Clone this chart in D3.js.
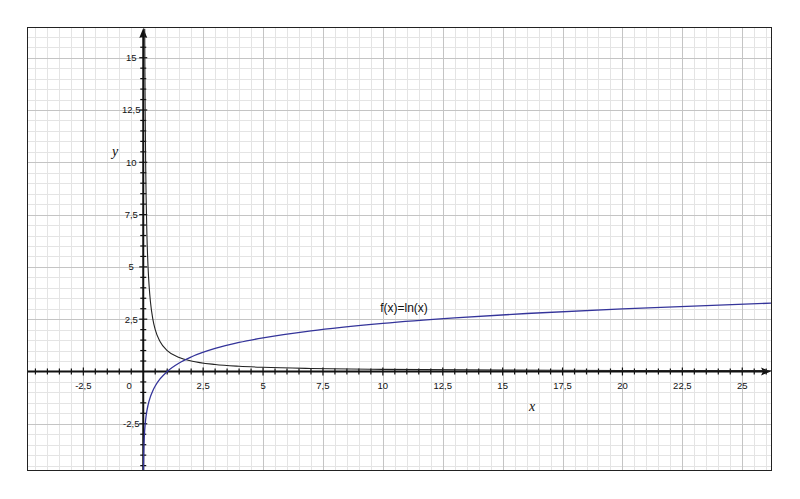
<!DOCTYPE html>
<html><head><meta charset="utf-8">
<script src="https://cdn.jsdelivr.net/npm/d3@7"></script>
<style>html,body{margin:0;padding:0;background:#fff;}svg{display:block;}</style>
</head><body>
<svg id="chart" width="800" height="499"></svg>
<script>
// Domain
const xDomain = [-4.81, 26.2];
const yDomain = [-4.71, 16.42];
const xTickValues = [-2.5, 0, 2.5, 5, 7.5, 10, 12.5, 15, 17.5, 20, 22.5, 25];
const xTickLabels = ["-2,5", "0", "2,5", "5", "7,5", "10", "12,5", "15", "17,5", "20", "22,5", "25"];
const yTickValues = [-2.5, 2.5, 5, 7.5, 10, 12.5, 15];
const yTickLabels = ["-2,5", "2,5", "5", "7,5", "10", "12,5", "15"];

// f(x)=ln(x) sampled values
const lnX = [0.009, 0.012, 0.015, 0.02, 0.03, 0.04, 0.05, 0.075, 0.1, 0.15, 0.2, 0.3, 0.4, 0.5, 0.7, 1, 1.5, 2, 3, 4, 5, 7, 10, 13, 16, 20, 26.2];
const lnY = [-4.7105, -4.4228, -4.1997, -3.912, -3.5066, -3.2189, -2.9957, -2.5903, -2.3026, -1.8971, -1.6094, -1.2040, -0.9163, -0.6931, -0.3567, 0, 0.4055, 0.6931, 1.0986, 1.3863, 1.6094, 1.9459, 2.3026, 2.5649, 2.7726, 2.9957, 3.2658];

// second (black) curve sampled values
const invX = [0.061, 0.07, 0.08, 0.1, 0.12, 0.15, 0.2, 0.25, 0.3, 0.4, 0.5, 0.7, 1, 1.5, 2, 3, 4, 5, 7, 10, 15, 20, 26.2];
const invY = [16.39, 14.286, 12.5, 10, 8.333, 6.667, 5, 4, 3.333, 2.5, 2, 1.4286, 1, 0.6667, 0.5, 0.3333, 0.25, 0.2, 0.1429, 0.1, 0.0667, 0.05, 0.0382];

const curveLabel = "f(x)=ln(x)";

const L = 28, R = 771, T = 28, B = 470;
const svg = d3.select("#chart");
const x = d3.scaleLinear().domain(xDomain).range([L, R]);
const y = d3.scaleLinear().domain(yDomain).range([B, T]);

svg.append("defs").append("clipPath").attr("id", "clip")
  .append("rect").attr("x", L).attr("y", T).attr("width", R - L).attr("height", B - T);

// grid
const minorX = d3.range(-4.5, 26.21, 0.5).filter(v => Math.abs(v / 2.5 - Math.round(v / 2.5)) > 1e-6);
const minorY = d3.range(-4.5, 16.41, 0.5).filter(v => Math.abs(v / 2.5 - Math.round(v / 2.5)) > 1e-6);
const majorX = d3.range(-2.5, 26.21, 2.5);
const majorY = d3.range(-2.5, 16.41, 2.5);
const g = svg.append("g");
g.selectAll(".mx").data(minorX).join("line")
  .attr("x1", d => Math.round(x(d)) + 0.5).attr("x2", d => Math.round(x(d)) + 0.5)
  .attr("y1", T).attr("y2", B).attr("stroke", "#e4e4e4").attr("stroke-width", 1);
g.selectAll(".my").data(minorY).join("line")
  .attr("y1", d => Math.round(y(d)) + 0.5).attr("y2", d => Math.round(y(d)) + 0.5)
  .attr("x1", L).attr("x2", R).attr("stroke", "#e4e4e4").attr("stroke-width", 1);
g.selectAll(".Mx").data(majorX).join("line")
  .attr("x1", d => Math.round(x(d)) + 0.5).attr("x2", d => Math.round(x(d)) + 0.5)
  .attr("y1", T).attr("y2", B).attr("stroke", "#c4c4c4").attr("stroke-width", 1);
g.selectAll(".My").data(majorY).join("line")
  .attr("y1", d => Math.round(y(d)) + 0.5).attr("y2", d => Math.round(y(d)) + 0.5)
  .attr("x1", L).attr("x2", R).attr("stroke", "#c4c4c4").attr("stroke-width", 1);

// axes
const x0 = x(0), y0 = y(0);
svg.append("line").attr("x1", L).attr("x2", R - 6).attr("y1", y0).attr("y2", y0)
  .attr("stroke", "#111").attr("stroke-width", 2);
svg.append("line").attr("x1", x0).attr("x2", x0).attr("y1", B).attr("y2", T + 6)
  .attr("stroke", "#111").attr("stroke-width", 2);
svg.append("path").attr("d", `M${R},${y0} L${R - 10},${y0 - 4} L${R - 8},${y0} L${R - 10},${y0 + 4} Z`).attr("fill", "#111");
svg.append("path").attr("d", `M${x0},${T} L${x0 - 4},${T + 10} L${x0},${T + 8} L${x0 + 4},${T + 10} Z`).attr("fill", "#111");

// axis ticks
const tickXs = d3.range(-4.5, 26.01, 0.5).filter(v => Math.abs(v) > 1e-6);
const tickYs = d3.range(-4.5, 16.01, 0.5).filter(v => Math.abs(v) > 1e-6);
const isMajor = v => Math.abs(v / 2.5 - Math.round(v / 2.5)) < 1e-6;
svg.selectAll(".tx").data(tickXs).join("line")
  .attr("x1", d => x(d)).attr("x2", d => x(d))
  .attr("y1", d => y0 - (isMajor(d) ? 4 : 3)).attr("y2", d => y0 + (isMajor(d) ? 4 : 3))
  .attr("stroke", "#111").attr("stroke-width", 1.2);
svg.selectAll(".ty").data(tickYs).join("line")
  .attr("y1", d => y(d)).attr("y2", d => y(d))
  .attr("x1", d => x0 - (isMajor(d) ? 4 : 3)).attr("x2", d => x0 + (isMajor(d) ? 4 : 3))
  .attr("stroke", "#111").attr("stroke-width", 1.2);

// tick labels
const font = "'Liberation Sans', Arial, sans-serif";
svg.selectAll(".xl").data(xTickValues).join("text")
  .attr("x", d => d === 0 ? x(d) - 14 : x(d)).attr("y", y0 + 18)
  .attr("text-anchor", "middle").attr("font-family", font).attr("font-size", 9.5).attr("fill", "#111")
  .text((d, i) => xTickLabels[i]);
svg.selectAll(".yl").data(yTickValues).join("text")
  .attr("x", x0 - 12).attr("y", d => y(d)).attr("dy", "0.35em")
  .attr("text-anchor", "middle").attr("font-family", font).attr("font-size", 9.5).attr("fill", "#111")
  .text((d, i) => yTickLabels[i]);

// axis titles
svg.append("text").attr("x", 115).attr("y", 156).attr("text-anchor", "middle")
  .attr("font-family", "'Liberation Serif', 'DejaVu Serif', serif").attr("font-style", "italic")
  .attr("font-size", 14).attr("fill", "#111").text("y");
svg.append("text").attr("x", 532).attr("y", 411).attr("text-anchor", "middle")
  .attr("font-family", "'Liberation Serif', 'DejaVu Serif', serif").attr("font-style", "italic")
  .attr("font-size", 14).attr("fill", "#111").text("x");

// curves
const plot = svg.append("g").attr("clip-path", "url(#clip)");
const line = d3.line().x(d => x(d[0])).y(d => y(d[1])).curve(d3.curveMonotoneX);
plot.append("path").datum(invX.map((v, i) => [v, invY[i]])).attr("d", line)
  .attr("fill", "none").attr("stroke", "#222").attr("stroke-width", 1.1);
plot.append("path").datum(lnX.map((v, i) => [v, lnY[i]])).attr("d", line)
  .attr("fill", "none").attr("stroke", "#34349a").attr("stroke-width", 1.3);

svg.append("text").attr("x", 404).attr("y", 312).attr("text-anchor", "middle")
  .attr("font-family", font).attr("font-size", 12).attr("fill", "#111").text(curveLabel);

// frame
svg.append("rect").attr("x", L - 0.5).attr("y", T - 0.5).attr("width", R - L + 1).attr("height", B - T + 1)
  .attr("fill", "none").attr("stroke", "#222").attr("stroke-width", 1);
</script>
</body></html>
